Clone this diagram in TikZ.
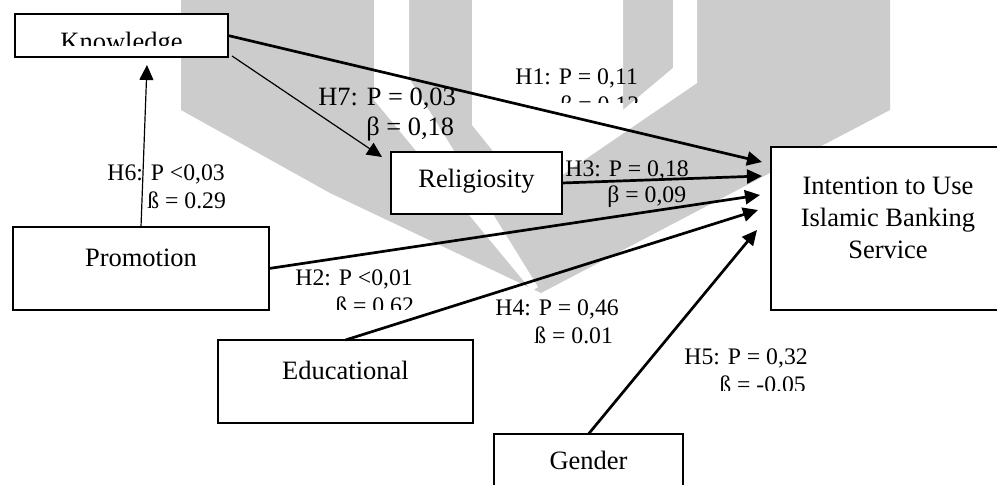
\documentclass[tikz,border=0pt]{standalone}
\usepackage{fontspec}
\setmainfont{Liberation Serif}
\usetikzlibrary{arrows.meta}
\newcommand\boxfont{\fontsize{13.25pt}{16pt}\selectfont}
\newcommand\labfont{\fontsize{11.85pt}{14pt}\selectfont}
\newcommand\biglabfont{\fontsize{13.2pt}{15pt}\selectfont}
\begin{document}
\begin{tikzpicture}[
  x=0.5pt, y=-0.5pt,
  wm/.style={fill=black!20},
  wbox/.style={draw, fill=white, line width=1.25pt, inner sep=0pt, outer sep=0pt,
               anchor=north west, font=\boxfont},
  lab/.style={inner sep=0pt, anchor=base west, font=\labfont},
  biglab/.style={inner sep=0pt, anchor=base west, font=\biglabfont},
  thk/.style={line width=1.35pt, -{Triangle[length=7.5pt,width=7pt]}},
  thn/.style={line width=0.6pt, -{Triangle[length=7.5pt,width=7pt]}},
]
\useasboundingbox (0,0) rectangle (997,485);
\clip (0,0) rectangle (997,485);
\fill[white] (0,0) rectangle (997,485);

% background emblem
\fill[wm] (181,-5) -- (890,-5) -- (890,110) -- (541,293) -- (330,193) -- (181,110) -- cycle;
\fill[white] (374,-5) -- (409,-5) -- (409,78) -- (538,287) -- (532,291) -- (374,100) -- cycle;
\fill[white] (472,-5) -- (623,-5) -- (623,110) -- (673,68) -- (673,-5) -- (697,-5)
             -- (697,83) -- (530,197) -- (472,125) -- cycle;

% constructs
\node[wbox, minimum width=106.5pt, minimum height=21.5pt] (knowledge) at (15,14) {};
\begin{scope}
  \clip (15,14) rectangle (228,45.5);
  \node[inner sep=0pt, anchor=base, font=\boxfont] (knowledgetext) at (121.5,50.5) {Knowledge};
\end{scope}
\node[wbox, minimum width=128pt, text height=20pt, text depth=21.5pt] (promotion) at (13,227) {Promotion};
\node[wbox, minimum width=85.5pt, text height=18pt, text depth=13pt] (religiosity) at (391,152) {Religiosity};
\node[wbox, minimum width=117pt, text height=24pt, text depth=57.5pt] (intention) at (771,147)
  {\begin{tabular}[t]{@{}c@{}}Intention to Use\\Islamic Banking\\Service\end{tabular}};
\node[wbox, minimum width=127.5pt, text height=20pt, text depth=21.5pt] (educational) at (218,340) {Educational};
\node[wbox, minimum width=94.5pt, text height=18pt, text depth=23.5pt] (gender) at (494,434) {Gender};

% paths
\draw[thk] (knowledge.east) -- ([shift={(-9,15)}]intention.north west);
\draw[thn] ([shift={(4,-1)}]knowledge.south east) -- ([shift={(-9,5)}]religiosity.north west);
\draw[thn] (promotion.north) -- ([shift={(25.5,8)}]knowledge.south);
\draw[thk] (religiosity.east) -- ([shift={(-9,29)}]intention.north west);
\draw[thk] (promotion.east) -- ([shift={(-11,48)}]intention.north west);
\draw[thk] (educational.north) -- ([shift={(-13,63)}]intention.north west);
\draw[thk] (gender.north) -- ([shift={(-14,83)}]intention.north west);

% path coefficients
\node[lab] (h1p) at (515,85) {H1: P = 0,11};
\begin{scope}
  \clip (500,60) rectangle (660,103);
  \node[lab] (h1b) at (560,113) {β = 0,12};
\end{scope}
\node[biglab] (h7p) at (318,106) {H7: P = 0,03};
\node[biglab] (h7b) at (366,136) {β = 0,18};
\node[lab] (h6p) at (107,181) {H6: P <0,03};
\node[lab] (h6b) at (147,209) {ß = 0.29};
\node[lab] (h3p) at (565,177) {H3: P = 0,18};
\node[lab] (h3b) at (607,203) {β = 0,09};
\node[lab] (h2p) at (295,286) {H2: P <0,01};
\begin{scope}
  \clip (280,290) rectangle (440,310);
  \node[lab] (h2b) at (335,314) {ß = 0.62};
\end{scope}
\node[lab] (h4p) at (495,316) {H4: P = 0,46};
\node[lab] (h4b) at (534,344) {ß = 0.01};
\node[lab] (h5p) at (684,365) {H5: P = 0,32};
\begin{scope}
  \clip (670,370) rectangle (840,391);
  \node[lab] (h5b) at (719,393) {ß = -0.05};
\end{scope}
\end{tikzpicture}
\end{document}
